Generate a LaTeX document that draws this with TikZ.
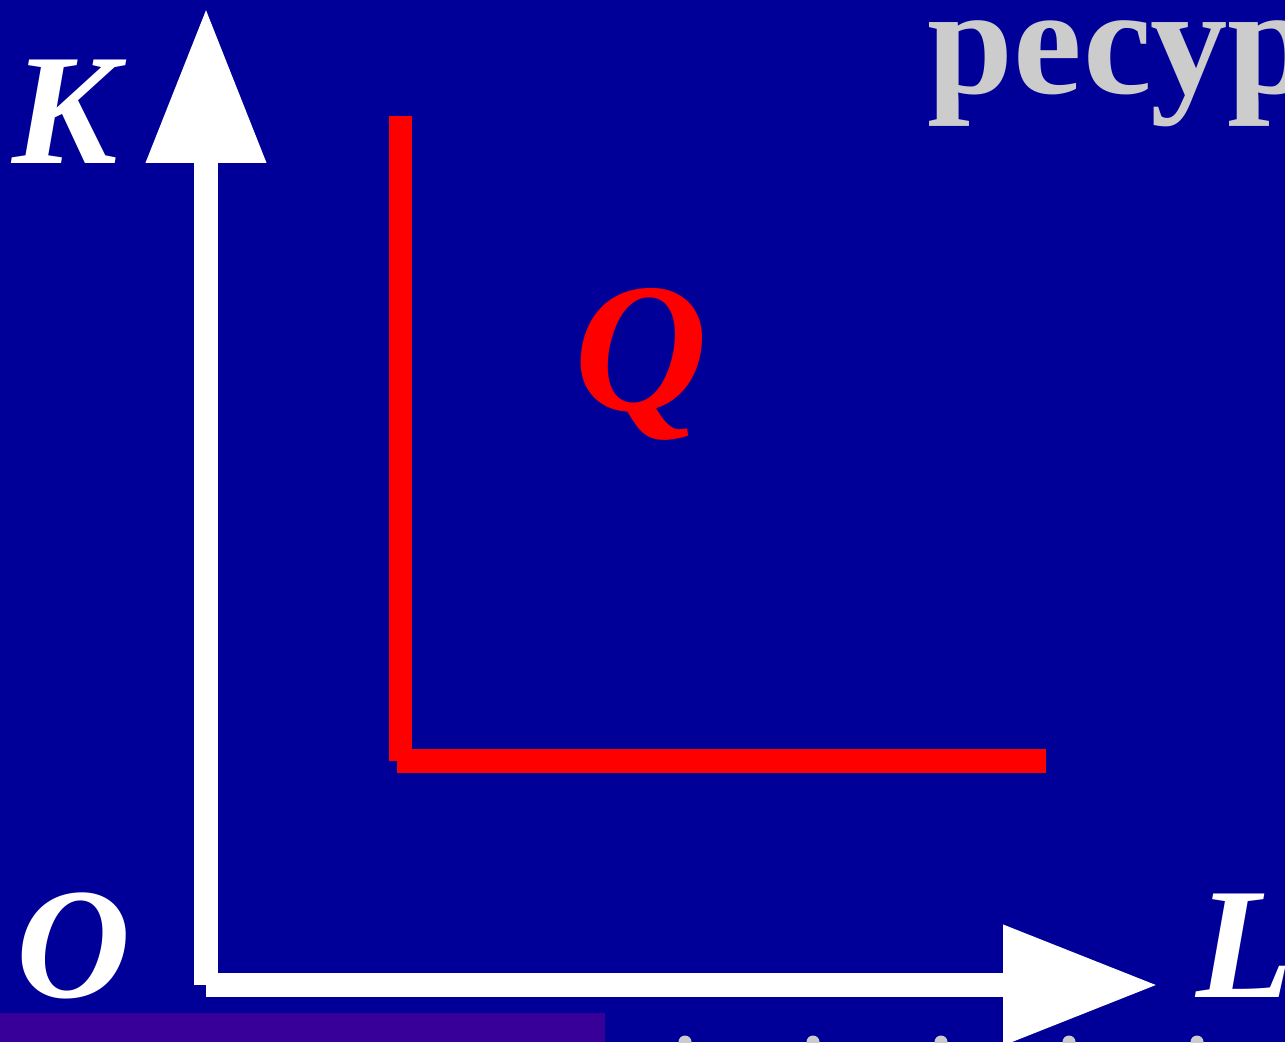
\documentclass[tikz,border=0pt]{standalone}
\usepackage{fontspec}
\setmainfont{Liberation Serif}
\usepackage{tikz}
\usetikzlibrary{arrows.meta}

\definecolor{slidebg}{RGB}{0,0,153}
\definecolor{barpurple}{RGB}{56,0,153}
\definecolor{titlegray}{RGB}{204,204,204}

\tikzset{
  axis/.style={white,line width=0.48cm,
    -{Triangle[length=3.1cm,width=2.28cm]}},
  isoquant/.style={red,line width=0.47cm},
  axislabel/.style={white,inner sep=0pt,anchor=base west,
    font=\fontsize{90}{90}\selectfont\bfseries\itshape},
}

\begin{document}
\begin{tikzpicture}[x=0.02cm,y=-0.02cm]
\useasboundingbox (0,0) rectangle (1285,1042);
\clip (0,0) rectangle (1285,1042);
\fill[slidebg] (0,0) rectangle (1285,1042);
\fill[barpurple] (0,1013) rectangle (605,1042);
% dots of the next line
\foreach \dx in {685,813,941,1069,1197}
  \fill[titlegray] (\dx,1042) circle (6.5);
% title
\node[titlegray,inner sep=0pt,anchor=base west,
  font=\fontsize{88}{88}\selectfont\bfseries] (title) at (927,93) {ресур};
% axes
\coordinate (origin) at (206,985);
\coordinate (ktip) at (206,8);
\coordinate (ltip) at (1158,985);
\draw[axis] (origin) -- (ktip);
\draw[axis] (origin) -- (ltip);
\node[axislabel] (klabel) at (12,163) {K};
\node[axislabel] (olabel) at (16,997) {O};
\node[axislabel] (llabel) at (1196,997) {L};
% right-angle isoquant
\coordinate (qtop) at (400.5,116);
\coordinate (qcorner) at (400.5,761);
\coordinate (qbase) at (397,760.5);
\coordinate (qright) at (1046,760.5);
\draw[isoquant] (qtop) -- (qcorner);
\draw[isoquant,line width=0.48cm] (qbase) -- (qright);
\node[red,inner sep=0pt,anchor=base west,
  font=\fontsize{105}{105}\selectfont\bfseries\itshape] (qlabel) at (574,410) {Q};
\end{tikzpicture}
\end{document}
